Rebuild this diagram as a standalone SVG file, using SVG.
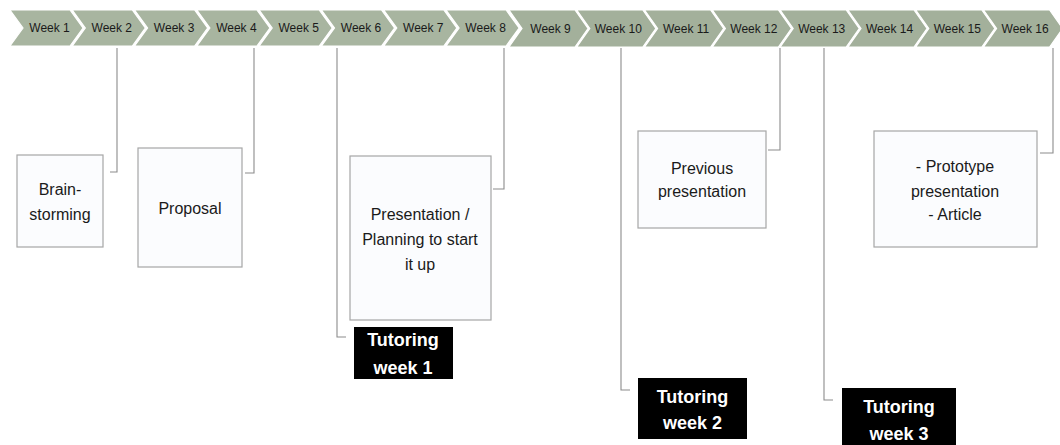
<svg xmlns="http://www.w3.org/2000/svg" width="1060" height="445" viewBox="0 0 1060 445">
<style>
.wk{font-family:"Liberation Sans",Arial,sans-serif;font-size:12px;fill:#1a1a1a;text-anchor:middle}
.bx{fill:#fbfcfe;stroke:#a6a6a6;stroke-width:1.2}
.bt{font-family:"Liberation Sans",Arial,sans-serif;font-size:16px;fill:#1a1a1a;text-anchor:middle}
.tb{fill:#000}
.tt{font-family:"Liberation Sans",Arial,sans-serif;font-size:18px;font-weight:bold;fill:#fff;text-anchor:middle}
.cn{fill:none;stroke:#8c8c8c;stroke-width:1.1}
.c1{fill:#a8b5a0;stroke:#fff;stroke-width:1.2}
.c2{fill:#a3b09b;stroke:#fff;stroke-width:1.2}
</style>
<defs>
<path id="ch1" d="M0,10 L60,10 L73,28 L60,46 L0,46 L13,28 Z"/>
<path id="ch2" d="M0,10 L66,10 L79,28.5 L66,47 L0,47 L13,28.5 Z"/>
</defs>
<g id="timeline">
<use href="#ch1" class="c1" x="10"/>
<use href="#ch1" class="c1" x="72.3"/>
<use href="#ch1" class="c1" x="134.6"/>
<use href="#ch1" class="c1" x="196.9"/>
<use href="#ch1" class="c1" x="259.2"/>
<use href="#ch1" class="c1" x="321.5"/>
<use href="#ch1" class="c1" x="383.8"/>
<use href="#ch1" class="c1" x="446.1"/>
<use href="#ch2" class="c2" x="509"/>
<use href="#ch2" class="c2" x="576.8"/>
<use href="#ch2" class="c2" x="644.6"/>
<use href="#ch2" class="c2" x="712.4"/>
<use href="#ch2" class="c2" x="780.2"/>
<use href="#ch2" class="c2" x="848"/>
<use href="#ch2" class="c2" x="915.8"/>
<use href="#ch2" class="c2" x="983.6"/>
<text class="wk" x="49.5" y="32">Week 1</text>
<text class="wk" x="111.8" y="32">Week 2</text>
<text class="wk" x="174.1" y="32">Week 3</text>
<text class="wk" x="236.4" y="32">Week 4</text>
<text class="wk" x="298.7" y="32">Week 5</text>
<text class="wk" x="361" y="32">Week 6</text>
<text class="wk" x="423.3" y="32">Week 7</text>
<text class="wk" x="485.6" y="32">Week 8</text>
<text class="wk" x="550.5" y="32.5">Week 9</text>
<text class="wk" x="618.3" y="32.5">Week 10</text>
<text class="wk" x="686.1" y="32.5">Week 11</text>
<text class="wk" x="753.9" y="32.5">Week 12</text>
<text class="wk" x="821.7" y="32.5">Week 13</text>
<text class="wk" x="889.5" y="32.5">Week 14</text>
<text class="wk" x="957.3" y="32.5">Week 15</text>
<text class="wk" x="1025.1" y="32.5">Week 16</text>
</g>
<g id="connectors">
<path class="cn" d="M117,48 V172 H110"/>
<path class="cn" d="M254,48 V173 H245"/>
<path class="cn" d="M337,48 V337 H346"/>
<path class="cn" d="M504,48 V189 H493"/>
<path class="cn" d="M621,48 V390 H630"/>
<path class="cn" d="M780,48 V150 H768"/>
<path class="cn" d="M824,48 V400 H833"/>
<path class="cn" d="M1053,48 V153 H1040"/>
</g>
<g id="brainstorming">
<rect class="bx" x="17" y="155" width="86" height="92"/>
<text class="bt" x="60" y="195">Brain-</text>
<text class="bt" x="60" y="220">storming</text>
</g>
<g id="proposal">
<rect class="bx" x="138" y="148" width="104" height="119"/>
<text class="bt" x="190" y="214">Proposal</text>
</g>
<g id="presentation">
<rect class="bx" x="350" y="156" width="141" height="164"/>
<text class="bt" x="420" y="220">Presentation /</text>
<text class="bt" x="420" y="245">Planning to start</text>
<text class="bt" x="420" y="270">it up</text>
</g>
<g id="previous">
<rect class="bx" x="638" y="131" width="128" height="97"/>
<text class="bt" x="702" y="174">Previous</text>
<text class="bt" x="702" y="197">presentation</text>
</g>
<g id="prototype">
<rect class="bx" x="874" y="131" width="163" height="116"/>
<text class="bt" x="955" y="172">- Prototype</text>
<text class="bt" x="955" y="197">presentation</text>
<text class="bt" x="955" y="220">- Article</text>
</g>
<g id="tutoring1">
<rect class="tb" x="354" y="327" width="99" height="52"/>
<text class="tt" x="403" y="346">Tutoring</text>
<text class="tt" x="403" y="374">week 1</text>
</g>
<g id="tutoring2">
<rect class="tb" x="638" y="378" width="109" height="61"/>
<text class="tt" x="692.5" y="403">Tutoring</text>
<text class="tt" x="692.5" y="429">week 2</text>
</g>
<g id="tutoring3">
<rect class="tb" x="842" y="388" width="114" height="60"/>
<text class="tt" x="899" y="413">Tutoring</text>
<text class="tt" x="899" y="440">week 3</text>
</g>
</svg>
